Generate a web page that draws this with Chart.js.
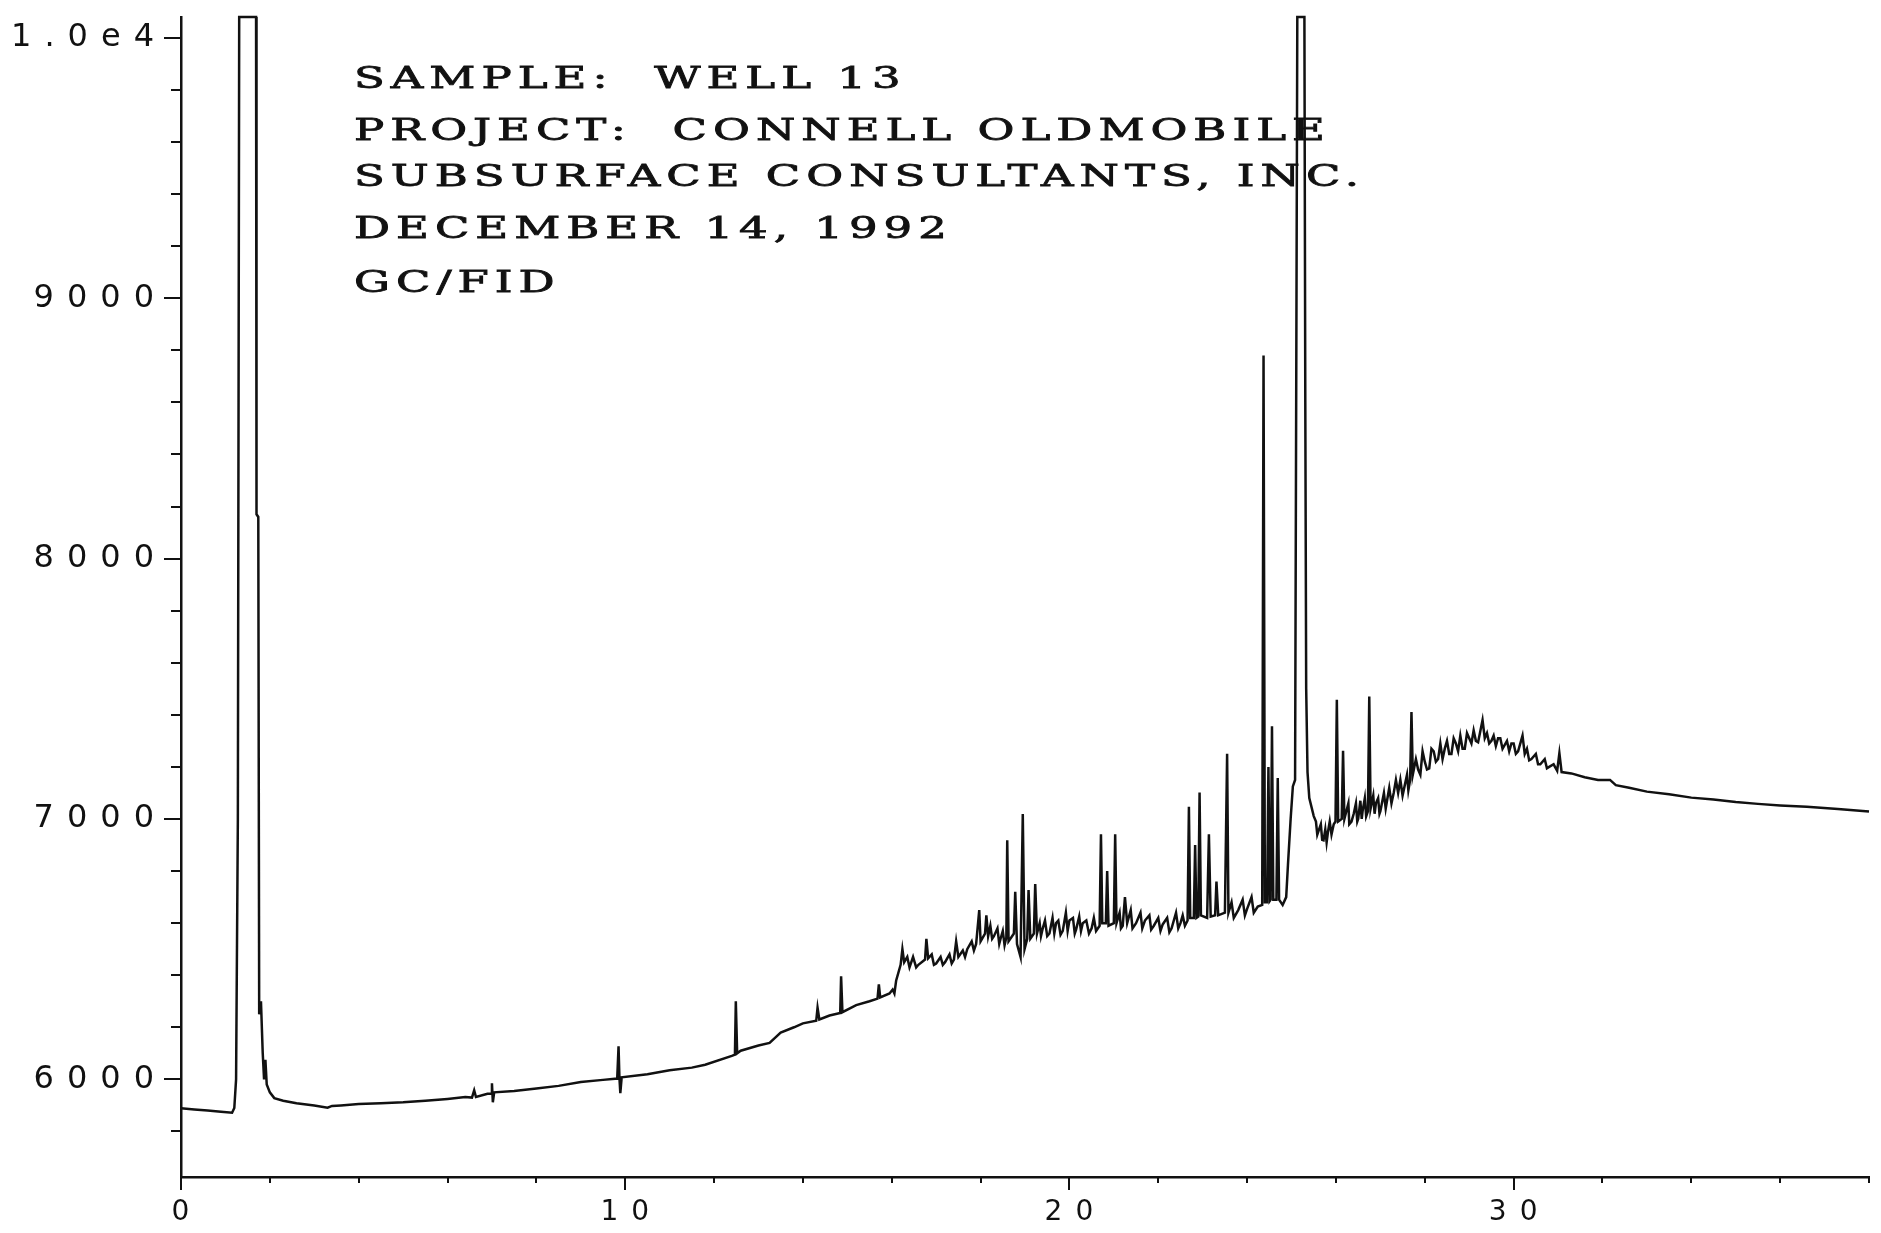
<!DOCTYPE html>
<html lang="en">
<head>
<meta charset="UTF-8">
<title>GC/FID chromatogram - Well 13</title>
<script src="https://cdn.jsdelivr.net/npm/chart.js"></script>
<style>
  html, body { margin: 0; padding: 0; background: #fff; }
  canvas { display: block; }
</style>
</head>
<body>
<canvas id="gcChart" width="1881" height="1233"></canvas>
<script>
// retention time (min) and detector response
const times = [
  0.00, 0.30, 0.60, 0.90, 1.15, 1.20, 1.24, 1.28, 1.31, 1.69,
  1.70, 1.74, 1.76, 1.80, 1.84, 1.87, 1.90, 1.93, 2.00, 2.10,
  2.30, 2.60, 3.00, 3.30, 3.40, 3.60, 4.00, 4.50, 5.00, 5.50,
  6.00, 6.40, 6.55, 6.60, 6.64, 6.90, 6.98, 7.00, 7.02, 7.05,
  7.50, 8.00, 8.50, 9.00, 9.50, 9.82, 9.85, 9.87, 9.89, 9.92,
  10.50, 11.00, 11.50, 11.80, 12.40, 12.47, 12.49, 12.52, 12.60, 13.00,
  13.25, 13.50, 13.80, 14.00, 14.30, 14.33, 14.37, 14.60, 14.84, 14.86,
  14.89, 15.20, 15.50, 15.68, 15.71, 15.74, 15.95, 16.02, 16.06, 16.10,
  16.20, 16.24, 16.28, 16.35, 16.40, 16.48, 16.55, 16.60, 16.75, 16.78,
  16.82, 16.90, 16.95, 17.00, 17.10, 17.15, 17.20, 17.30, 17.35, 17.40,
  17.45, 17.50, 17.60, 17.65, 17.70, 17.80, 17.85, 17.90, 17.97, 18.00,
  18.10, 18.13, 18.17, 18.22, 18.26, 18.30, 18.38, 18.42, 18.45, 18.50,
  18.54, 18.58, 18.60, 18.63, 18.75, 18.78, 18.82, 18.90, 18.95, 18.99,
  19.05, 19.08, 19.12, 19.20, 19.23, 19.27, 19.33, 19.36, 19.40, 19.45,
  19.50, 19.55, 19.62, 19.66, 19.70, 19.75, 19.80, 19.85, 19.92, 19.96,
  20.00, 20.08, 20.12, 20.15, 20.22, 20.26, 20.30, 20.38, 20.44, 20.50,
  20.55, 20.60, 20.68, 20.71, 20.74, 20.82, 20.85, 20.88, 21.00, 21.03,
  21.06, 21.13, 21.16, 21.20, 21.25, 21.30, 21.38, 21.42, 21.50, 21.60,
  21.64, 21.70, 21.80, 21.84, 21.90, 22.00, 22.05, 22.10, 22.20, 22.25,
  22.30, 22.40, 22.45, 22.50, 22.55, 22.60, 22.66, 22.69, 22.72, 22.80,
  22.83, 22.86, 22.90, 22.93, 22.96, 23.10, 23.14, 23.18, 23.28, 23.31,
  23.35, 23.50, 23.55, 23.58, 23.65, 23.70, 23.80, 23.90, 23.95, 24.00,
  24.10, 24.15, 24.24, 24.34, 24.37, 24.40, 24.45, 24.48, 24.51, 24.53,
  24.56, 24.59, 24.66, 24.69, 24.72, 24.80, 24.88, 24.92, 24.98, 25.03,
  25.08, 25.13, 25.29, 25.31, 25.33, 25.36, 25.40, 25.50, 25.55, 25.58,
  25.62, 25.66, 25.69, 25.72, 25.76, 25.79, 25.82, 25.86, 25.90, 25.95,
  25.99, 26.02, 26.05, 26.13, 26.16, 26.19, 26.25, 26.28, 26.30, 26.35,
  26.40, 26.45, 26.48, 26.50, 26.55, 26.58, 26.60, 26.65, 26.68, 26.72,
  26.75, 26.78, 26.84, 26.87, 26.90, 26.95, 26.98, 27.00, 27.08, 27.12,
  27.15, 27.20, 27.25, 27.30, 27.35, 27.40, 27.45, 27.50, 27.55, 27.60,
  27.63, 27.67, 27.70, 27.73, 27.80, 27.85, 27.90, 27.95, 28.00, 28.05,
  28.10, 28.15, 28.20, 28.25, 28.30, 28.35, 28.40, 28.45, 28.50, 28.55,
  28.60, 28.65, 28.70, 28.75, 28.80, 28.85, 28.90, 28.95, 29.00, 29.05,
  29.10, 29.15, 29.20, 29.30, 29.35, 29.40, 29.45, 29.50, 29.55, 29.60,
  29.65, 29.70, 29.75, 29.80, 29.85, 29.90, 29.95, 30.00, 30.05, 30.10,
  30.20, 30.25, 30.30, 30.35, 30.40, 30.50, 30.55, 30.60, 30.70, 30.75,
  30.80, 30.90, 30.98, 31.03, 31.08, 31.30, 31.60, 31.90, 32.17, 32.30,
  32.60, 33.00, 33.50, 34.00, 34.50, 35.00, 35.50, 36.00, 36.60, 37.30,
  38.00
];
const signal = [
  5889, 5884, 5880, 5876, 5872, 5890, 6000, 7000, 10080, 10080,
  8170, 8160, 6250, 6300, 6100, 6000, 6075, 5980, 5950, 5928,
  5918, 5908, 5900, 5891, 5898, 5900, 5905, 5908, 5912, 5918,
  5925, 5932, 5930, 5958, 5932, 5945, 5945, 5985, 5912, 5950,
  5955, 5965, 5975, 5990, 5998, 6003, 6127, 6005, 5947, 6008,
  6020, 6035, 6045, 6056, 6090, 6095, 6300, 6100, 6110, 6130,
  6140, 6180, 6200, 6215, 6225, 6275, 6230, 6245, 6255, 6396,
  6258, 6285, 6300, 6310, 6365, 6315, 6330, 6345, 6330, 6380,
  6440, 6500, 6450, 6470, 6430, 6470, 6430, 6440, 6460, 6540,
  6465, 6480, 6440, 6445, 6470, 6440, 6450, 6480, 6445, 6460,
  6530, 6470, 6495, 6470, 6500, 6530, 6495, 6520, 6650, 6530,
  6560, 6630, 6550, 6590, 6540, 6550, 6580, 6520, 6540, 6570,
  6515, 6545, 6918, 6530, 6560, 6720, 6520, 6470, 7019, 6500,
  6540, 6727, 6540, 6560, 6750, 6560, 6600, 6550, 6580, 6610,
  6550, 6560, 6620, 6560, 6600, 6610, 6555, 6570, 6640, 6570,
  6610, 6620, 6560, 6575, 6625, 6570, 6600, 6610, 6560, 6580,
  6620, 6570, 6590, 6941, 6600, 6600, 6800, 6590, 6600, 6941,
  6600, 6640, 6580, 6590, 6700, 6600, 6650, 6580, 6600, 6640,
  6580, 6610, 6630, 6575, 6590, 6620, 6570, 6595, 6620, 6565,
  6580, 6640, 6580, 6600, 6630, 6590, 6610, 7047, 6620, 6620,
  6900, 6620, 6625, 7102, 6630, 6620, 6941, 6625, 6630, 6760,
  6630, 6640, 7250, 6640, 6680, 6620, 6650, 6690, 6630, 6655,
  6700, 6640, 6664, 6670, 8780, 6680, 6680, 7200, 6685, 6690,
  7356, 6690, 6690, 7157, 6690, 6670, 6700, 6825, 7000, 7125,
  7150, 10080, 10080, 8600, 7500, 7180, 7080, 7011, 6990, 6940,
  6960, 6980, 6920, 6918, 6960, 6910, 6950, 6990, 6940, 6980,
  6990, 7458, 6990, 7000, 7262, 7000, 7040, 7060, 6980, 6990,
  7020, 7060, 6990, 7000, 7070, 7000, 7030, 7080, 7010, 7030,
  7470, 7040, 7090, 7020, 7060, 7080, 7020, 7030, 7100, 7040,
  7070, 7120, 7060, 7100, 7150, 7100, 7150, 7090, 7130, 7170,
  7110, 7150, 7411, 7170, 7230, 7190, 7170, 7260, 7220, 7190,
  7194, 7270, 7260, 7220, 7230, 7290, 7230, 7270, 7300, 7250,
  7250, 7310, 7290, 7260, 7320, 7270, 7270, 7330, 7310, 7290,
  7340, 7300, 7295, 7380, 7310, 7330, 7290, 7300, 7320, 7280,
  7310, 7310, 7270, 7285, 7300, 7260, 7290, 7290, 7250, 7260,
  7320, 7250, 7270, 7225, 7230, 7250, 7210, 7210, 7230, 7195,
  7200, 7210, 7185, 7253, 7180, 7175, 7160, 7150, 7150, 7130,
  7120, 7105, 7095, 7082, 7075, 7065, 7058, 7052, 7047, 7038,
  7029
];
const xMajorTicks = [0, 10, 20, 30];
const xMinorTicks = [0, 2, 4, 6, 8, 10, 12, 14, 16, 18, 20, 22, 24, 26, 28, 30, 32, 34, 36, 38];
const yMajorTicks = [6000, 7000, 8000, 9000, 10000];
const yMajorLabels = ['6000', '7000', '8000', '9000', '1.0e4'];
const yMinorTicks = [5800, 6000, 6200, 6400, 6600, 6800, 7000, 7200, 7400, 7600, 7800, 8000,
  8200, 8400, 8600, 8800, 9000, 9200, 9400, 9600, 9800, 10000];
const headerLines = [
  'SAMPLE:  WELL 13',
  'PROJECT:  CONNELL OLDMOBILE',
  'SUBSURFACE CONSULTANTS, INC.',
  'DECEMBER 14, 1992',
  'GC/FID'
];

const ink = '#111';

// wide, spaced lettering like the old plotter output
const spacingPlugin = {
  id: 'spacing',
  beforeDraw(chart) { chart.ctx.letterSpacing = '13px'; },
  afterDraw(chart) {
    const ctx = chart.ctx;
    ctx.save();
    ctx.letterSpacing = '4px';
    ctx.fillStyle = ink;
    ctx.strokeStyle = ink;
    ctx.lineWidth = 0.8;
    ctx.font = '30px "DejaVu Serif"';
    ctx.textBaseline = 'alphabetic';
    const rows = [88, 140, 186, 238, 292];
    headerLines.forEach((line, i) => {
      ctx.save();
      ctx.translate(354, rows[i]);
      ctx.scale(1.5, 1);
      ctx.fillText(line, 0, 0);
      ctx.strokeText(line, 0, 0);
      ctx.restore();
    });
    ctx.restore();
    ctx.letterSpacing = '0px';
  }
};

new Chart(document.getElementById('gcChart'), {
  type: 'line',
  data: {
    datasets: [{
      data: times.map((t, i) => ({ x: t, y: signal[i] })),
      borderColor: ink,
      borderWidth: 2.5,
      pointRadius: 0,
      tension: 0,
      fill: false,
      clip: 3
    }]
  },
  options: {
    responsive: false,
    animation: false,
    events: [],
    layout: { padding: { top: 17, right: 12, left: 0, bottom: 0 } },
    plugins: { legend: { display: false }, tooltip: { enabled: false } },
    scales: {
      x: {
        type: 'linear', min: 0, max: 38, weight: 1,
        grid: { drawOnChartArea: false, color: ink, lineWidth: 2, tickLength: 13 },
        border: { color: ink, width: 2.5 },
        afterBuildTicks: s => { s.ticks = xMajorTicks.map(v => ({ value: v })); },
        afterFit: s => { s.height = 56; },
        ticks: { color: ink, font: { family: '"DejaVu Sans"', size: 28 }, padding: 6,
                 labelOffset: 6, maxRotation: 0, autoSkip: false }
      },
      x2: {
        type: 'linear', position: 'bottom', min: 0, max: 38, weight: 0,
        grid: { drawOnChartArea: false, color: ink, lineWidth: 2, tickLength: 6 },
        border: { display: false },
        afterBuildTicks: s => { s.ticks = xMinorTicks.map(v => ({ value: v })); },
        afterFit: s => { s.height = 0; },
        ticks: { display: false }
      },
      y: {
        type: 'linear', min: 5625, max: 10080, weight: 1,
        grid: { drawOnChartArea: false, color: ink, lineWidth: 2, tickLength: 17 },
        border: { color: ink, width: 2.5 },
        afterBuildTicks: s => { s.ticks = yMajorTicks.map(v => ({ value: v })); },
        afterFit: s => { s.width = 181; },
        ticks: {
          color: ink, font: { family: '"DejaVu Sans"', size: 32 }, padding: -3, autoSkip: false,
          callback: v => yMajorLabels[yMajorTicks.indexOf(v)]
        }
      },
      y2: {
        type: 'linear', position: 'left', min: 5625, max: 10080, weight: 0,
        grid: { drawOnChartArea: false, color: ink, lineWidth: 2, tickLength: 10 },
        border: { display: false },
        afterBuildTicks: s => { s.ticks = yMinorTicks.map(v => ({ value: v })); },
        afterFit: s => { s.width = 0; },
        ticks: { display: false }
      }
    }
  },
  plugins: [spacingPlugin]
});
</script>
</body>
</html>
